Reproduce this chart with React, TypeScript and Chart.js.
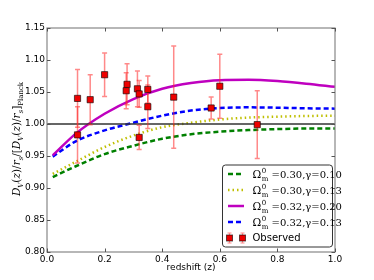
import React, { useEffect, useRef } from "react";
import { Chart, registerables } from "chart.js";

Chart.register(...registerables);

const zGrid = [0.02, 0.1, 0.2, 0.3, 0.4, 0.5, 0.6, 0.7, 0.8, 0.9, 1.0];
const greenVals = [0.917, 0.934, 0.953, 0.966, 0.977, 0.984, 0.988, 0.9905, 0.992, 0.993, 0.993];
const yellowVals = [0.922, 0.941, 0.964, 0.982, 0.995, 1.002, 1.007, 1.01, 1.0115, 1.0125, 1.013];
const magentaVals = [0.951, 0.985, 1.016, 1.039, 1.055, 1.064, 1.0685, 1.069, 1.067, 1.063, 1.058];
const blueVals = [0.949, 0.973, 0.99, 1.002, 1.013, 1.021, 1.025, 1.026, 1.0255, 1.0245, 1.024];

const obsZ = [0.106, 0.106, 0.15, 0.2, 0.275, 0.278, 0.314, 0.32, 0.32, 0.35, 0.35, 0.44, 0.57, 0.6, 0.73];
const obsVal = [1.04, 0.983, 1.038, 1.077, 1.052, 1.062, 1.055, 1.047, 0.979, 1.054, 1.027, 1.042, 1.025, 1.059, 0.999];
const obsErr = [0.045, 0.044, 0.039, 0.034, 0.028, 0.032, 0.028, 0.021, 0.019, 0.021, 0.034, 0.08, 0.017, 0.05, 0.053];

const legendEntries = [
  { om: "0.30", g: "0.10", color: "#008000", dash: [5, 3], w: 2.5 },
  { om: "0.30", g: "0.13", color: "#bfbf00", dash: [1.5, 3], w: 2.5 },
  { om: "0.32", g: "0.20", color: "#bf00bf", dash: [], w: 2.5 },
  { om: "0.32", g: "0.13", color: "#0000ff", dash: [5, 3], w: 2.5 },
];

const SERIF = "'DejaVu Serif', serif";
const SANS = "'DejaVu Sans', sans-serif";

function drawYLabel(ctx: CanvasRenderingContext2D, cx: number, cy: number) {
  const segs = [
    { t: "D", it: true }, { t: "V", it: true, sub: true }, { t: "(" }, { t: "z", it: true }, { t: ")/" },
    { t: "r", it: true }, { t: "s", it: true, sub: true }, { t: "/[" }, { t: "D", it: true },
    { t: "V", it: true, sub: true }, { t: "(" }, { t: "z", it: true }, { t: ")/" }, { t: "r", it: true },
    { t: "s", it: true, sub: true }, { t: "]" }, { t: "Planck", sub: true },
  ] as { t: string; it?: boolean; sub?: boolean }[];
  const fontOf = (s: { it?: boolean; sub?: boolean }) =>
    `${s.it ? "italic " : ""}${s.sub ? 7 : 10.5}px ${SERIF}`;
  let total = 0;
  const widths: number[] = [];
  for (const s of segs) {
    ctx.font = fontOf(s);
    const w = ctx.measureText(s.t).width;
    widths.push(w);
    total += w;
  }
  ctx.save();
  ctx.translate(cx, cy);
  ctx.rotate(-Math.PI / 2);
  ctx.fillStyle = "#000";
  ctx.textBaseline = "alphabetic";
  let x = -total / 2;
  segs.forEach((s, i) => {
    ctx.font = fontOf(s);
    ctx.fillText(s.t, x, s.sub ? 6.5 : 3.5);
    x += widths[i];
  });
  ctx.restore();
}

function drawLegendText(ctx: CanvasRenderingContext2D, x: number, y: number, om: string, g: string) {
  ctx.fillStyle = "#000";
  ctx.textBaseline = "alphabetic";
  ctx.font = `10.5px ${SERIF}`;
  ctx.fillText("Ω", x, y + 3.5);
  const wO = ctx.measureText("Ω").width;
  ctx.font = `7px ${SERIF}`;
  ctx.fillText("0", x + wO + 0.5, y - 1.5);
  ctx.fillText("m", x + wO + 0.5, y + 6.5);
  const wm = ctx.measureText("m").width;
  ctx.font = `10px ${SERIF}`;
  ctx.fillText(` =${om},γ=${g}`, x + wO + wm + 0.5, y + 3.5);
}

const customPlugin = {
  id: "custom",
  beforeDatasetDraw(chart: any, args: any) {
    if (args.index !== 0) return;
    const { ctx, scales } = chart;
    const xs = scales.x;
    const ys = scales.y;
    ctx.save();
    ctx.strokeStyle = "rgba(255,40,40,0.55)";
    ctx.lineWidth = 1.5;
    obsZ.forEach((z, i) => {
      const px = xs.getPixelForValue(z);
      const top = ys.getPixelForValue(obsVal[i] + obsErr[i]);
      const bot = ys.getPixelForValue(obsVal[i] - obsErr[i]);
      ctx.beginPath();
      ctx.moveTo(px, top);
      ctx.lineTo(px, bot);
      ctx.moveTo(px - 2.5, top);
      ctx.lineTo(px + 2.5, top);
      ctx.moveTo(px - 2.5, bot);
      ctx.lineTo(px + 2.5, bot);
      ctx.stroke();
    });
    ctx.restore();
  },
  afterDraw(chart: any) {
    const { ctx, chartArea, scales } = chart;
    const { left, right, top, bottom } = chartArea;
    ctx.save();
    // frame
    ctx.strokeStyle = "#888";
    ctx.lineWidth = 1.2;
    ctx.strokeRect(left, top, right - left, bottom - top);
    // inward ticks
    ctx.lineWidth = 1;
    ctx.strokeStyle = "#555";
    scales.x.ticks.forEach((t: any) => {
      const px = Math.round(scales.x.getPixelForValue(t.value)) + 0.5;
      ctx.beginPath();
      ctx.moveTo(px, bottom);
      ctx.lineTo(px, bottom - 3.5);
      ctx.moveTo(px, top);
      ctx.lineTo(px, top + 3.5);
      ctx.stroke();
    });
    scales.y.ticks.forEach((t: any) => {
      const py = Math.round(scales.y.getPixelForValue(t.value)) + 0.5;
      ctx.beginPath();
      ctx.moveTo(left, py);
      ctx.lineTo(left + 3.5, py);
      ctx.moveTo(right, py);
      ctx.lineTo(right - 3.5, py);
      ctx.stroke();
    });
    // axis titles
    ctx.fillStyle = "#000";
    ctx.font = `9px ${SANS}`;
    ctx.textAlign = "center";
    ctx.textBaseline = "middle";
    ctx.fillText("redshift (z)", (left + right) / 2, 268);
    ctx.textAlign = "left";
    drawYLabel(ctx, 16, 139);

    // legend
    const lx = 222.5, ly = 165, lw = 110, lh = 82;
    ctx.beginPath();
    const r = 3;
    ctx.moveTo(lx + r, ly);
    ctx.arcTo(lx + lw, ly, lx + lw, ly + lh, r);
    ctx.arcTo(lx + lw, ly + lh, lx, ly + lh, r);
    ctx.arcTo(lx, ly + lh, lx, ly, r);
    ctx.arcTo(lx, ly, lx + lw, ly, r);
    ctx.closePath();
    ctx.fillStyle = "#fff";
    ctx.fill();
    ctx.strokeStyle = "#333";
    ctx.lineWidth = 1;
    ctx.stroke();

    legendEntries.forEach((e, i) => {
      const y = 174 + i * 16;
      ctx.beginPath();
      ctx.setLineDash(e.dash);
      ctx.strokeStyle = e.color;
      ctx.lineWidth = e.w;
      ctx.moveTo(228, y);
      ctx.lineTo(244, y);
      ctx.stroke();
      ctx.setLineDash([]);
      drawLegendText(ctx, 252.5, y, e.om, e.g);
    });
    const oy = 238;
    [229.5, 242.5].forEach((px) => {
      ctx.strokeStyle = "rgba(255,40,40,0.55)";
      ctx.lineWidth = 1.2;
      ctx.beginPath();
      ctx.moveTo(px, oy - 5);
      ctx.lineTo(px, oy + 5);
      ctx.moveTo(px - 2, oy - 5);
      ctx.lineTo(px + 2, oy - 5);
      ctx.moveTo(px - 2, oy + 5);
      ctx.lineTo(px + 2, oy + 5);
      ctx.stroke();
      ctx.fillStyle = "#ee0000";
      ctx.fillRect(px - 3, oy - 3, 6, 6);
      ctx.strokeStyle = "rgba(0,0,0,0.6)";
      ctx.lineWidth = 1;
      ctx.strokeRect(px - 3, oy - 3, 6, 6);
    });
    ctx.fillStyle = "#000";
    ctx.font = `10px ${SANS}`;
    ctx.textBaseline = "middle";
    ctx.fillText("Observed", 252.5, oy + 0.5);
    ctx.restore();
  },
};

const toXY = (vals: number[]) => zGrid.map((z, i) => ({ x: z, y: vals[i] }));

export default function App() {
  const ref = useRef<HTMLCanvasElement | null>(null);
  useEffect(() => {
    if (!ref.current) return;
    const lineDs = (label: string, vals: number[], color: string, dash: number[], order: number) => ({
      type: "line" as const,
      label,
      data: toXY(vals),
      borderColor: color,
      backgroundColor: color,
      borderWidth: 2.5,
      borderDash: dash,
      pointRadius: 0,
      tension: 0.4,
      cubicInterpolationMode: "monotone" as const,
      fill: false,
      order,
    });
    const chart = new Chart(ref.current, {
      type: "scatter",
      data: {
        datasets: [
          {
            type: "scatter",
            label: "Observed",
            data: obsZ.map((z, i) => ({ x: z, y: obsVal[i] })),
            pointStyle: "rect",
            pointRadius: 4.4,
            backgroundColor: "#ee0000",
            borderColor: "rgba(0,0,0,0.6)",
            borderWidth: 1,
            order: 0,
          } as any,
          lineDs("green", greenVals, "#008000", [5, 3], 2),
          lineDs("yellow", yellowVals, "#bfbf00", [1.5, 3], 3),
          lineDs("magenta", magentaVals, "#bf00bf", [], 4),
          lineDs("blue", blueVals, "#0000ff", [5, 3], 5),
          {
            type: "line",
            label: "unity",
            data: [{ x: 0, y: 1 }, { x: 1, y: 1 }],
            borderColor: "#333",
            borderWidth: 1.5,
            pointRadius: 0,
            order: 1,
          } as any,
        ],
      },
      options: {
        responsive: false,
        animation: false,
        layout: { padding: { top: 28, right: 39, left: 0, bottom: 0 } },
        plugins: { legend: { display: false }, tooltip: { enabled: false } },
        scales: {
          x: {
            type: "linear",
            min: 0,
            max: 1,
            grid: { display: false, drawTicks: false },
            border: { display: false },
            ticks: {
              stepSize: 0.2,
              padding: 2,
              color: "#000",
              font: { family: "DejaVu Sans", size: 9 },
              callback: (v: any) => Number(v).toFixed(1),
              maxRotation: 0,
            },
            afterFit: (s: any) => {
              s.height = 28;
            },
          },
          y: {
            type: "linear",
            min: 0.8,
            max: 1.15,
            grid: { display: false, drawTicks: false },
            border: { display: false },
            ticks: {
              stepSize: 0.05,
              padding: 2,
              color: "#000",
              font: { family: "DejaVu Sans", size: 9 },
              callback: (v: any) => Number(v).toFixed(2),
            },
            afterFit: (s: any) => {
              s.width = 47;
            },
          },
        },
      },
      plugins: [customPlugin],
    } as any);
    return () => chart.destroy();
  }, []);
  return (
    <div style={{ position: "absolute", left: 0, top: 0, width: 374, height: 280, background: "#fff" }}>
      <canvas ref={ref} width={374} height={280} style={{ display: "block" }} />
    </div>
  );
}
